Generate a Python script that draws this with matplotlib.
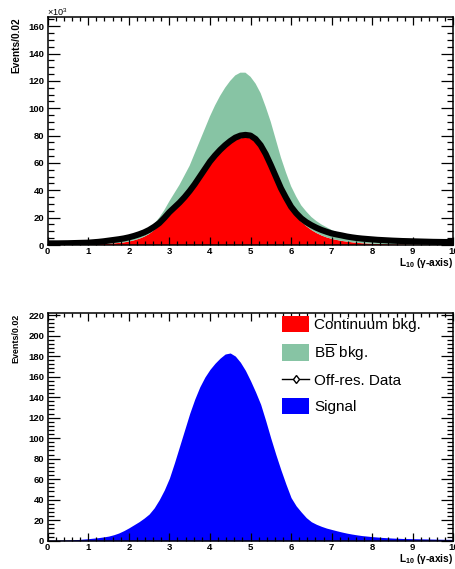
import matplotlib
matplotlib.use('Agg')
from matplotlib import pyplot as plt
from matplotlib.patches import Patch
from matplotlib.lines import Line2D
from matplotlib.ticker import MultipleLocator

plt.rcParams['font.family'] = ['Liberation Sans', 'DejaVu Sans']
plt.rcParams['mathtext.fontset'] = 'custom'
plt.rcParams['mathtext.rm'] = 'Liberation Sans'
plt.rcParams['mathtext.it'] = 'Liberation Sans:italic'
plt.rcParams['mathtext.bf'] = 'Liberation Sans:bold'

# positions (L10 gamma-axis), every 0.125
l10 = [0, 0.125, 0.25, 0.375, 0.5, 0.625, 0.75, 0.875,
       1, 1.125, 1.25, 1.375, 1.5, 1.625, 1.75, 1.875,
       2, 2.125, 2.25, 2.375, 2.5, 2.625, 2.75, 2.875,
       3, 3.125, 3.25, 3.375, 3.5, 3.625, 3.75, 3.875,
       4, 4.125, 4.25, 4.375, 4.5, 4.625, 4.75, 4.875,
       5, 5.125, 5.25, 5.375, 5.5, 5.625, 5.75, 5.875,
       6, 6.125, 6.25, 6.375, 6.5, 6.625, 6.75, 6.875,
       7, 7.125, 7.25, 7.375, 7.5, 7.625, 7.75, 7.875,
       8, 8.125, 8.25, 8.375, 8.5, 8.625, 8.75, 8.875,
       9, 9.125, 9.25, 9.375, 9.5, 9.625, 9.75, 9.875, 10]

# top panel, events/0.02 in units of 10^3
continuum = [0.3, 0.3, 0.3, 0.3, 0.3, 0.35, 0.4, 0.45,
             0.5, 0.6, 0.7, 0.85, 1.0, 1.2, 1.5, 1.9,
             2.5, 3.4, 4.5, 6, 8, 10.8, 14, 18,
             22, 26, 30, 34.5, 39, 44.5, 50, 55.5,
             61, 65.5, 69, 72.5, 75, 77, 78, 78.5,
             78, 75.5, 71, 64, 56, 47, 39, 32,
             26, 21, 17, 13.8, 11, 8.8, 7, 5.6,
             4.5, 3.7, 3, 2.5, 2, 1.6, 1.3, 1.1,
             0.9, 0.8, 0.7, 0.6, 0.5, 0.5, 0.45, 0.4,
             0.4, 0.4, 0.35, 0.35, 0.3, 0.3, 0.3, 0.3, 0.3]
bbbar = [0.2, 0.2, 0.2, 0.25, 0.3, 0.3, 0.3, 0.35,
         0.4, 0.5, 0.6, 0.75, 1.0, 1.3, 1.5, 2.0,
         2.5, 2.9, 3.5, 3.8, 4, 4.7, 6, 7.5,
         10, 12, 14, 16.5, 19, 22.5, 26, 29.5,
         33, 36.5, 40, 42.5, 45, 47, 48, 47.5,
         45, 42.5, 40, 37, 34, 30, 25, 21,
         17, 14.5, 12, 10.7, 9.5, 8.7, 8, 7.4,
         6.5, 5.7, 5, 4.3, 3.8, 3.5, 3.2, 2.9,
         2.7, 2.5, 2.3, 2.2, 2.1, 2.0, 1.9, 1.8,
         1.8, 1.7, 1.6, 1.55, 1.5, 1.45, 1.4, 1.35, 1.3]
offres = [1.2, 1.2, 1.2, 1.25, 1.3, 1.4, 1.5, 1.6,
          1.7, 2.0, 2.3, 2.7, 3.2, 3.7, 4.2, 4.8,
          5.6, 6.6, 7.8, 9.2, 11, 13.3, 16, 19.8,
          24, 27.5, 31, 35, 39.5, 44.5, 50, 55.5,
          61, 65.5, 69.5, 73, 76, 78.5, 80, 80.5,
          80, 77.5, 73, 66.5, 58.5, 50, 41.5, 34.5,
          28, 23.3, 19.5, 16.7, 14.5, 12.6, 11, 9.7,
          8.5, 7.7, 7, 6.2, 5.6, 5.1, 4.7, 4.4,
          4.1, 3.8, 3.6, 3.4, 3.2, 3.05, 2.9, 2.8,
          2.7, 2.6, 2.5, 2.4, 2.3, 2.25, 2.2, 2.2, 2.2]

# bottom panel, events/0.02
signal = [0.5, 0.5, 0.6, 0.7, 0.8, 1.0, 1.2, 1.6,
          2, 2.5, 3, 3.7, 4.5, 5.8, 7.5, 9.8,
          12.5, 15.5, 18.5, 22, 26, 32, 40, 49.5,
          61, 76, 92, 108, 124, 138, 150, 159.5,
          167, 173, 178, 182, 183, 180, 174, 166,
          156, 145, 133, 117, 100, 84, 69, 55,
          42, 34, 28, 22.5, 18.5, 16, 14, 12.3,
          11, 9.7, 8.5, 7.4, 6.5, 5.7, 5, 4.5,
          4, 3.6, 3.2, 2.9, 2.6, 2.4, 2.2, 2.1,
          2, 1.9, 1.8, 1.7, 1.6, 1.5, 1.4, 1.35, 1.3]

legend_labels = ['Continuum bkg.', r'B$\overline{\mathrm{B}}$ bkg.', 'Off-res. Data', 'Signal']

red = '#ff0000'
green = '#87c4a4'
blue = '#0000ff'

fig = plt.figure(figsize=(4.56, 5.69), dpi=100)
ax1 = fig.add_axes([0.1046, 0.5694, 0.8895, 0.400])
ax2 = fig.add_axes([0.1046, 0.0497, 0.8895, 0.3997])

#top: stacked backgrounds plus off-resonance data
ax1.stackplot(l10, continuum, bbbar, colors=[red, green], linewidth=0)
ax1.plot(l10, offres, color='black', lw=4.4, solid_joinstyle='round')
ax1.set_ylim(0, 166.4)
ax1.yaxis.set_major_locator(MultipleLocator(20))
ax1.yaxis.set_minor_locator(MultipleLocator(5))

#bottom: signal
ax2.fill_between(l10, 0, signal, color=blue, linewidth=0)
ax2.set_ylim(0, 221.7)
ax2.yaxis.set_major_locator(MultipleLocator(20))
ax2.yaxis.set_minor_locator(MultipleLocator(4))

for ax in [ax1, ax2]:
    ax.set_xlim(0, 10)
    ax.xaxis.set_major_locator(MultipleLocator(1))
    ax.xaxis.set_minor_locator(MultipleLocator(0.2))
    ax.tick_params(which='both', direction='in', top=True, right=True, width=0.9)
    ax.tick_params(axis='y', which='major', length=8.5, pad=2.5)
    ax.tick_params(axis='y', which='minor', length=4.3)
    ax.tick_params(axis='x', which='major', length=5.5, pad=1.5)
    ax.tick_params(axis='x', which='minor', length=2.8)
    for lab in ax.get_xticklabels() + ax.get_yticklabels():
        lab.set_fontsize(6.8)
        lab.set_fontweight('bold')
    for s in ax.spines.values():
        s.set_linewidth(1.1)

fig.text(47 / 456, 1 - 16 / 569, r'$\times$10$^{3}$', fontsize=6.6, va='baseline')
fig.text(16 / 456, 1 - 17.5 / 569, 'Events/0.02', rotation=90, ha='center', va='top',
         fontsize=7.3, fontweight='bold')
fig.text(16 / 456, 1 - 313.5 / 569, 'Events/0.02', rotation=90, ha='center', va='top',
         fontsize=6.4, fontweight='bold')
fig.text(453 / 456, 1 - 266 / 569, r'L$_{\mathbf{10}}$ (γ-axis)', ha='right',
         va='baseline', fontsize=7.3, fontweight='bold')
fig.text(453 / 456, 1 - 562.5 / 569, r'L$_{\mathbf{10}}$ (γ-axis)', ha='right',
         va='baseline', fontsize=7.3, fontweight='bold')

handles = [Patch(facecolor=red, edgecolor='none'),
           Patch(facecolor=green, edgecolor='none'),
           Line2D([], [], color='black', lw=1, marker='d', markersize=4.5,
                  markerfacecolor='white', markeredgecolor='black'),
           Patch(facecolor=blue, edgecolor='none')]
ax2.legend(handles, legend_labels, loc='upper left', bbox_to_anchor=(282 / 456, 1 - 316 / 569),
           bbox_transform=fig.transFigure, frameon=False, fontsize=11, borderpad=0,
           borderaxespad=0, handlelength=1.77, handleheight=1.25, handletextpad=0.35,
           labelspacing=0.63)

fig.savefig('out.png', dpi=100)
